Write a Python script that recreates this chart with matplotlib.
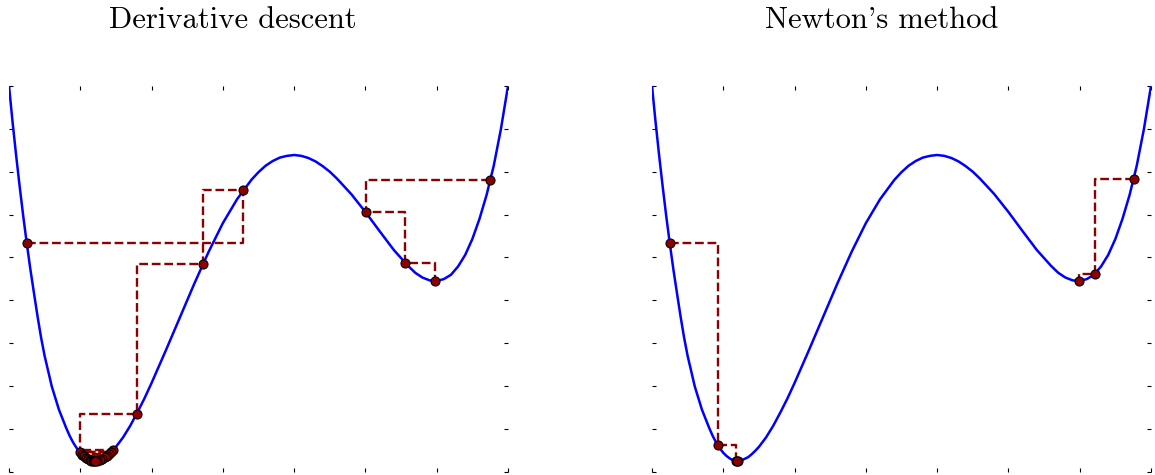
import matplotlib
matplotlib.use("Agg")
import matplotlib.pyplot as plt

# ----- objective curve, sampled -----
curve_x = [0.00, 0.05, 0.10, 0.15, 0.20, 0.25, 0.30, 0.35, 0.40, 0.45,
           0.50, 0.60, 0.70, 0.80, 0.85, 0.90, 0.95, 1.00, 1.05, 1.10,
           1.15, 1.20, 1.25, 1.30, 1.35, 1.40, 1.45, 1.50, 1.60, 1.70,
           1.80, 1.90, 2.00, 2.20, 2.40, 2.60, 2.80, 3.00, 3.20, 3.40,
           3.50, 3.60, 3.70, 3.80, 3.90, 4.00, 4.10, 4.20, 4.30, 4.40,
           4.50, 4.60, 4.80, 5.00, 5.20, 5.40, 5.60, 5.70, 5.80, 5.90,
           6.00, 6.10, 6.20, 6.30, 6.40, 6.50, 6.60, 6.70, 6.80, 6.90,
           7.00]
curve_y = [9.00, 8.16, 7.38, 6.65, 5.96, 5.32, 4.72, 4.17, 3.63, 3.13,
           2.70, 1.99, 1.45, 1.03, 0.84, 0.68, 0.55, 0.44, 0.36, 0.30,
           0.26, 0.25, 0.26, 0.30, 0.34, 0.41, 0.49, 0.58, 0.80, 1.07,
           1.38, 1.71, 2.07, 2.83, 3.61, 4.39, 5.13, 5.80, 6.36, 6.81,
           6.99, 7.14, 7.25, 7.33, 7.37, 7.39, 7.37, 7.32, 7.24, 7.13,
           7.00, 6.84, 6.48, 6.06, 5.61, 5.17, 4.80, 4.64, 4.53, 4.465,
           4.45, 4.495, 4.595, 4.79, 5.06, 5.43, 5.90, 6.46, 7.14, 7.99,
           9.00]

# ----- derivative descent iterates -----
dd_left_x = [0.248, 3.287, 2.717, 1.791, 0.996, 1.455, 1.024, 1.431, 1.052, 1.403,
             1.080, 1.375, 1.108, 1.347, 1.136, 1.305, 1.157, 1.276, 1.178, 1.234,
             1.190, 1.210]
dd_left_y = [5.34, 6.57, 4.84, 1.35, 0.45, 0.50, 0.40, 0.46, 0.36, 0.41,
             0.32, 0.375, 0.295, 0.34, 0.27, 0.30, 0.26, 0.28, 0.255, 0.255,
             0.25, 0.25]
dd_right_x = [6.754, 5.003, 5.559, 5.980]
dd_right_y = [6.80, 6.05, 4.87, 4.45]

# ----- Newton iterates -----
nt_left_x = [0.248, 0.922, 1.178, 1.213, 1.199]
nt_left_y = [5.34, 0.62, 0.25, 0.25, 0.25]
nt_right_x = [6.757, 6.214, 5.994]
nt_right_y = [6.82, 4.61, 4.45]

titles = ["Derivative descent", "Newton's method"]
runs = [
    [(dd_left_x, dd_left_y), (dd_right_x, dd_right_y)],
    [(nt_left_x, nt_left_y), (nt_right_x, nt_right_y)],
]

W, H = 1155, 475
fig = plt.figure(figsize=(W / 100, H / 100), dpi=100)

boxes = [(9, 508), (652, 1151)]
title_x = [233, 882]
top_px, bot_px = 86, 471.7

for k in range(2):
    x0, x1 = boxes[k]
    ax = fig.add_axes([x0 / W, 1 - bot_px / H, (x1 - x0) / W, (bot_px - top_px) / H])
    ax.plot(curve_x, curve_y, color="#0000ff", lw=1.8, zorder=2)
    for xs, ys in runs[k]:
        ax.plot(xs, ys, color="#8b0000", lw=1.7, ls="--",
                drawstyle="steps-post", zorder=3)
        ax.plot(xs, ys, ls="none", marker="o", ms=6.5, mfc="#8b0000",
                mec="black", mew=0.8, zorder=4, clip_on=False)
    ax.set_xlim(0, 7)
    ax.set_ylim(0, 9)
    ax.set_xticks(range(8))
    ax.set_yticks(range(10))
    ax.tick_params(direction="in", length=3, width=0.8, color="black",
                   top=True, right=True, labelbottom=False, labelleft=False)
    for s in ax.spines.values():
        s.set_visible(False)
    fig.text(title_x[k] / W, 1 - 28 / H, titles[k], family="cmr10",
             fontsize=22, ha="center", va="baseline")

fig.savefig("out.png", dpi=100)
